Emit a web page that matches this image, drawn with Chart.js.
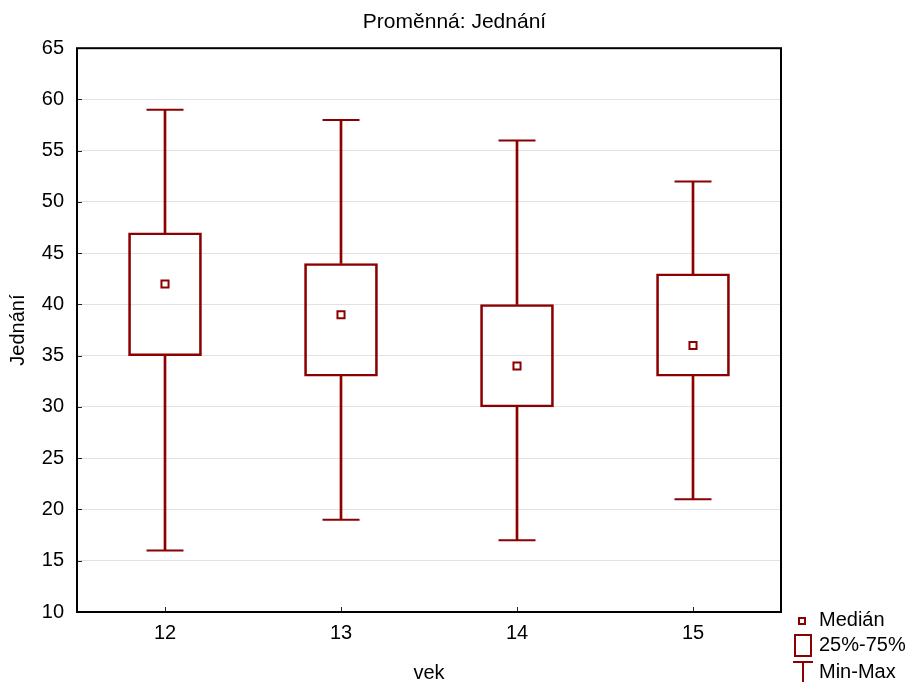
<!DOCTYPE html>
<html>
<head>
<meta charset="utf-8">
<script src="https://cdn.jsdelivr.net/npm/chart.js@4/dist/chart.umd.min.js"></script>
<style>
  html, body { margin: 0; padding: 0; background: #ffffff; }
  #wrap { width: 909px; height: 682px; }
</style>
</head>
<body>
<div id="wrap"><canvas id="c" width="909" height="682"></canvas></div>
<script>
// ---- data ----
const categories = ['12', '13', '14', '15'];
const minVals    = [16, 19, 17, 21];
const q1Vals     = [35, 33, 30, 33];
const medianVals = [42, 39, 34, 36];
const q3Vals     = [47, 44, 40, 43];
const maxVals    = [59, 58, 56, 52];
const yMin = 10, yMax = 65, yStep = 5;
const legendLabels = ['Medián', '25%-75%', 'Min-Max'];
const titleText = 'Proměnná: Jednání';
const xTitle = 'vek';
const yTitle = 'Jednání';

// ---- styling ----
const RED = '#8b0000';
const FONT = '"Liberation Sans", Arial, sans-serif';

const boxData = categories.map((c, i) => [q1Vals[i], q3Vals[i]]);
const lowWhisker = categories.map((c, i) => [minVals[i], q1Vals[i]]);
const highWhisker = categories.map((c, i) => [q3Vals[i], maxVals[i]]);

const framePlugin = {
  id: 'frameAndTicks',
  afterDraw(chart) {
    const ctx = chart.ctx;
    const a = chart.chartArea;
    const ys = chart.scales.y, xs = chart.scales.x;
    ctx.save();
    // inward tick marks
    ctx.strokeStyle = '#222';
    ctx.lineWidth = 1;
    ctx.beginPath();
    ys.ticks.forEach(t => {
      const py = Math.round(ys.getPixelForValue(t.value)) + 0.5;
      ctx.moveTo(a.left, py); ctx.lineTo(a.left + 5, py);
    });
    categories.forEach((c, i) => {
      const px = Math.round(xs.getPixelForValue(i)) + 0.5;
      ctx.moveTo(px, a.bottom); ctx.lineTo(px, a.bottom - 5);
    });
    ctx.stroke();
    // frame
    ctx.strokeStyle = '#000';
    ctx.lineWidth = 2;
    ctx.strokeRect(a.left, a.top, a.right - a.left, a.bottom - a.top);
    // legend
    ctx.strokeStyle = RED;
    ctx.fillStyle = '#fff';
    ctx.lineWidth = 2;
    ctx.fillRect(799, 618, 6, 6);
    ctx.strokeRect(799, 618, 6, 6);
    ctx.strokeRect(795, 635, 16, 21);
    ctx.beginPath();
    ctx.moveTo(793, 662); ctx.lineTo(813, 662);
    ctx.moveTo(803, 662); ctx.lineTo(803, 682);
    ctx.stroke();
    ctx.fillStyle = '#000';
    ctx.font = '20px ' + FONT;
    ctx.textBaseline = 'middle';
    ctx.textAlign = 'left';
    ctx.fillText(legendLabels[0], 819, 620);
    ctx.fillText(legendLabels[1], 819, 645);
    ctx.fillText(legendLabels[2], 819, 672);
    ctx.restore();
  }
};

new Chart(document.getElementById('c'), {
  type: 'bar',
  data: {
    labels: categories,
    datasets: [
      {
        type: 'bar', label: '25%-75%', data: boxData, grouped: false,
        barThickness: 73, backgroundColor: 'rgba(0,0,0,0)',
        borderColor: RED, borderWidth: 2, borderSkipped: false, order: 5
      },
      {
        type: 'bar', label: 'low', data: lowWhisker, grouped: false,
        barThickness: 2, backgroundColor: RED, borderWidth: 0, order: 4
      },
      {
        type: 'bar', label: 'high', data: highWhisker, grouped: false,
        barThickness: 2, backgroundColor: RED, borderWidth: 0, order: 4
      },
      {
        type: 'line', label: 'Min', data: minVals, showLine: false,
        pointStyle: 'line', pointRadius: 18.5, pointHoverRadius: 18.5,
        pointBorderColor: RED, pointBorderWidth: 2, order: 3
      },
      {
        type: 'line', label: 'Max', data: maxVals, showLine: false,
        pointStyle: 'line', pointRadius: 18.5, pointHoverRadius: 18.5,
        pointBorderColor: RED, pointBorderWidth: 2, order: 3
      },
      {
        type: 'line', label: 'Medián', data: medianVals, showLine: false,
        pointStyle: 'rect', pointRadius: 5, pointHoverRadius: 5,
        pointBackgroundColor: '#fff', pointBorderColor: RED, pointBorderWidth: 2, order: 1
      }
    ]
  },
  options: {
    responsive: false,
    devicePixelRatio: 1,
    animation: false,
    events: [],
    layout: { padding: { left: 0, right: 0, top: 0, bottom: 0 } },
    plugins: {
      legend: { display: false },
      tooltip: { enabled: false },
      title: {
        display: true, text: titleText, color: '#000',
        font: { family: FONT, size: 21, weight: 'normal', lineHeight: 1.2 },
        padding: { top: 10, bottom: 13 }
      }
    },
    scales: {
      x: {
        type: 'category', offset: true,
        grid: { display: false, drawTicks: false },
        border: { display: false },
        ticks: { color: '#000', padding: 9, font: { family: FONT, size: 20 } },
        title: {
          display: true, text: xTitle, color: '#000',
          font: { family: FONT, size: 20, lineHeight: 0.9 },
          padding: { top: 0, bottom: 0 }
        },
        afterFit(s) { s.height = 70; }
      },
      y: {
        min: yMin, max: yMax,
        grid: { color: '#e2e2e2', lineWidth: 1, drawTicks: false },
        border: { display: false },
        ticks: { stepSize: yStep, color: '#000', padding: 13, font: { family: FONT, size: 20 } },
        title: {
          display: true, text: yTitle, color: '#000',
          font: { family: FONT, size: 20, lineHeight: 1.2 },
          padding: { top: 6, bottom: 0 }
        },
        afterFit(s) { s.width = 77; }
      },
      yRight: {
        position: 'right', min: yMin, max: yMax,
        grid: { display: false, drawTicks: false },
        border: { display: false },
        ticks: { display: false },
        afterFit(s) { s.width = 128; }
      }
    }
  },
  plugins: [framePlugin]
});
</script>
</body>
</html>
